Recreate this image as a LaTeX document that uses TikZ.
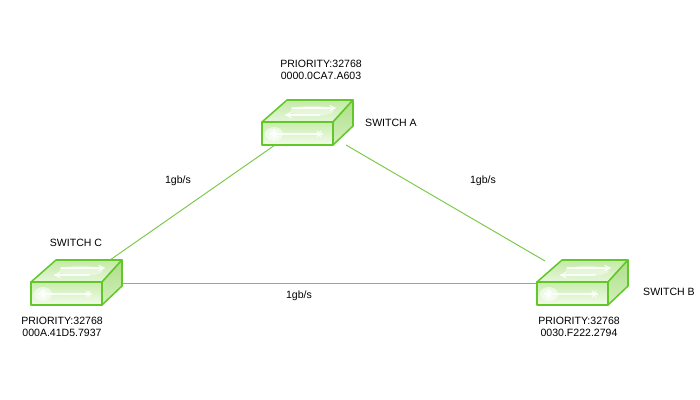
\documentclass[tikz,border=0pt]{standalone}
\usepackage{fontspec}
\setmainfont{Liberation Sans}
\usetikzlibrary{calc}
\definecolor{swline}{HTML}{62C82A}
\definecolor{swfrontA}{HTML}{C9EDAE}
\definecolor{swfrontB}{HTML}{F2FBEA}
\definecolor{swtopA}{HTML}{C4EAA6}
\definecolor{swtopB}{HTML}{E6F6DA}
\definecolor{swsideA}{HTML}{AEDF88}
\definecolor{swsideB}{HTML}{D2F0BC}
\definecolor{linkgreen}{HTML}{78C846}
\tikzset{
  swedge/.style={draw=swline, line width=1.3pt, line join=round},
  glow/.style={draw=white, line width=1pt, opacity=0.85, line cap=round},
  lbl/.style={font=\fontsize{9}{10.5}\selectfont, inner sep=1pt, align=center, text=black},
  link/.style={draw=linkgreen, line width=0.8pt}
}
% #1 name, #2 x, #3 y  (front face top-left corner, pixel units)
\newcommand\swbox[3]{%
  \begin{scope}[shift={(#2,#3)}]
    \shade[top color=swtopA, bottom color=swtopB] (0,0) -- (25,-22) -- (91,-22) -- (71,0) -- cycle;
    \path[swedge] (0,0) -- (25,-22) -- (91,-22) -- (71,0) -- cycle;
    \shade[top color=swsideA, bottom color=swsideB] (71,0) -- (91,-22) -- (91,4) -- (71,23) -- cycle;
    \path[swedge] (71,0) -- (91,-22) -- (91,4) -- (71,23) -- cycle;
    \shade[top color=swfrontA, bottom color=swfrontB] (0,0) rectangle (71,23);
    \path[swedge] (0,0) rectangle (71,23);
    \fill[white, opacity=0.55] (12,12) ellipse (9 and 7);
    \fill[white, opacity=0.4] (50,-11) ellipse (22 and 5);
    % glare on top face
    \draw[glow] (30,-14) -- (72,-14);
    \draw[glow] (68,-16.5) -- (73,-14) -- (68,-11.5);
    \draw[glow] (24,-7) -- (58,-7);
    \draw[glow] (29,-9.5) -- (24,-7) -- (29,-4.5);
    % front face star and arrow
    \foreach \a in {0,45,...,315} \draw[glow] (12,12) -- ++(\a:4.5);
    \draw[glow] (17,12) -- (57,12);
    \foreach \a in {0,60,...,300} \draw[glow] (57,12) -- ++(\a:3.5);
    \node[inner sep=0, minimum width=2.13cm, minimum height=0.69cm] (#1) at (35.5,11.5) {};
  \end{scope}}
\begin{document}
\begin{tikzpicture}[x=0.03cm, y=-0.03cm]
  \useasboundingbox[fill=white] (0,0) rectangle (700,400);
  % link end points
  \coordinate (ac1) at (275,145);
  \coordinate (ac2) at (110,260);
  \coordinate (ab1) at (346,145);
  \coordinate (ab2) at (545,261);
  \coordinate (cb1) at (122,283);
  \coordinate (cb2) at (537,283);
  \draw[link] (ac1) -- (ac2);
  \draw[link] (ab1) -- (ab2);
  \draw[link] (cb1) -- (cb2);
  % switches
  \swbox{A}{262}{122}
  \swbox{C}{31}{282}
  \swbox{B}{537}{282}
  % texts
  \node[lbl] (pA) at (321,70) {PRIORITY:32768\\0000.0CA7.A603};
  \node[lbl] (nA) at (391,123) {SWITCH A};
  \node[lbl] (nC) at (76,243) {SWITCH C};
  \node[lbl] (pC) at (62,327) {PRIORITY:32768\\000A.41D5.7937};
  \node[lbl] (nB) at (669,292) {SWITCH B};
  \node[lbl] (pB) at (579,327) {PRIORITY:32768\\0030.F222.2794};
  \node[lbl] (lac) at (178,181) {1gb/s};
  \node[lbl] (lab) at (483,181) {1gb/s};
  \node[lbl] (lcb) at (299,296) {1gb/s};
\end{tikzpicture}
\end{document}
